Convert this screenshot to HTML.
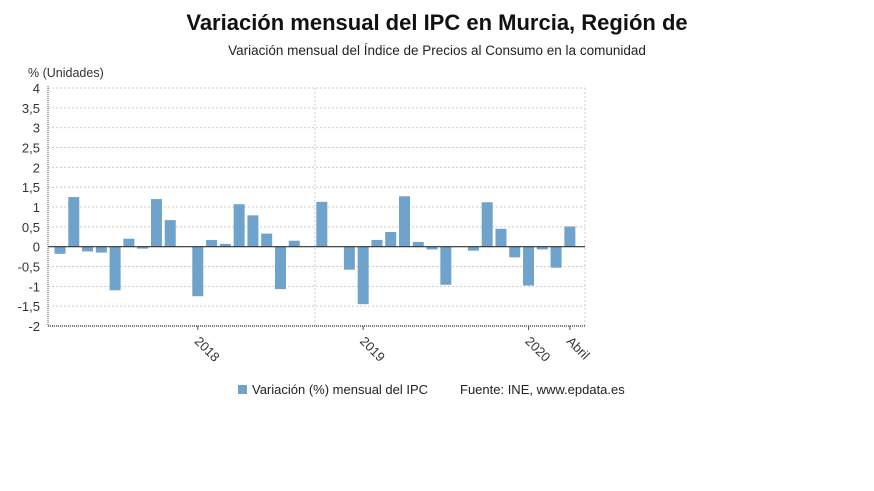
<!DOCTYPE html>
<html><head><meta charset="utf-8"><style>
body{margin:0;background:#fff;width:874px;height:491px;overflow:hidden;font-family:"Liberation Sans","DejaVu Sans",sans-serif}
</style></head><body>
<svg width="874" height="491" style="position:absolute;left:0;top:0">
<text x="437" y="30" text-anchor="middle" font-size="22" font-weight="bold" fill="#111">Variación mensual del IPC en Murcia, Región de</text>
<text x="437" y="55" text-anchor="middle" font-size="13.5" fill="#222">Variación mensual del Índice de Precios al Consumo en la comunidad</text>
<text x="28" y="77" font-size="12.5" fill="#333">% (Unidades)</text>
<g id="grid"></g><g id="bars"></g><g id="axes"></g>
<rect x="238" y="385" width="9" height="9" fill="#6fa3cb"/>
<text x="252" y="394" font-size="13" fill="#222">Variación (%) mensual del IPC</text>
<text x="460" y="394" font-size="13" fill="#222">Fuente: INE, www.epdata.es</text>
</svg>
<script>
const values=[-0.18,1.25,-0.12,-0.15,-1.1,0.2,-0.05,1.2,0.67,0,-1.25,0.17,0.07,1.07,0.79,0.33,-1.07,0.15,0,1.13,0,-0.58,-1.45,0.17,0.37,1.27,0.12,-0.07,-0.96,0,-0.1,1.12,0.45,-0.27,-0.98,-0.07,-0.53,0.51];
const yTicks=[4,3.5,3,2.5,2,1.5,1,0.5,0,-0.5,-1,-1.5,-2];
const xTickIdx=[10,22,34,37];
const xTickLabels=["2018","2019","2020","Abril"];
const NS="http://www.w3.org/2000/svg";
const L=48,R=585,T=88,B=326,yMax=4,yMin=-2;
const y=v=>T+(yMax-v)/(yMax-yMin)*(B-T);
const slot=13.78;
const x=i=>60+i*slot;
function mk(t,a,p){const e=document.createElementNS(NS,t);for(const k in a)e.setAttribute(k,a[k]);document.getElementById(p).appendChild(e);return e;}
yTicks.forEach(v=>{
 const g=mk('line',{x1:L,x2:R,y1:y(v),y2:y(v),stroke:'#ccc','stroke-dasharray':'2,2'},'grid');
 
 
 const t=mk('text',{x:40,y:y(v)+5,'text-anchor':'end','font-size':13,fill:'#333'},'axes');
 t.textContent=String(v).replace('.',',');
 
 
});
[x(18.5),R].forEach(xx=>{
 const g=mk('line',{x1:xx,x2:xx,y1:T,y2:B,stroke:'#ccc','stroke-dasharray':'2,2'},'grid');
 
 
});
values.forEach((v,i)=>{
 const r=mk('rect',{x:x(i)-5.5,width:11,y:Math.min(y(v),y(0)),height:Math.abs(y(v)-y(0)),fill:'#6fa3cb'},'bars');
 
 
});
let a=mk('line',{x1:L,x2:R,y1:y(0),y2:y(0),stroke:'#333','stroke-width':1.2},'axes');


a=mk('line',{x1:L,x2:L,y1:T-2,y2:B,stroke:'#555','stroke-width':1,'stroke-dasharray':'1,1'},'axes');


a=mk('line',{x1:L,x2:R,y1:B,y2:B,stroke:'#555','stroke-width':1.5,'stroke-dasharray':'1,1'},'axes');


xTickIdx.forEach((idx,k)=>{
 const xx=x(idx);
 const tk=mk('line',{x1:xx,x2:xx,y1:B,y2:B+4,stroke:'#555'},'axes');
 
 
 const t=mk('text',{x:xx-4,y:B+16,'font-size':13,fill:'#333',transform:`rotate(45 ${xx-4} ${B+16})`},'axes');
 t.textContent=xTickLabels[k];
 
 
});
</script>
</body></html>
